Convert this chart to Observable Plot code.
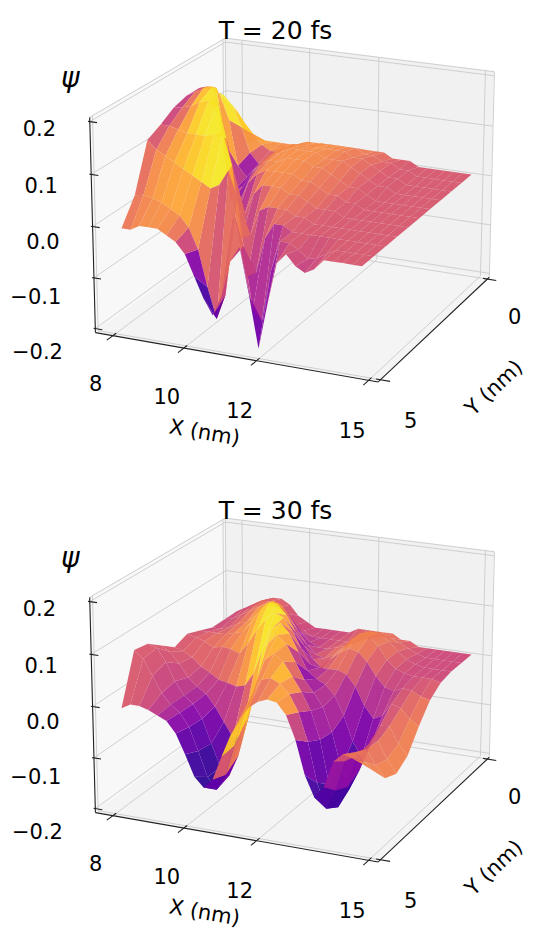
<!DOCTYPE html>
<html><head><meta charset="utf-8">
<script src="https://cdn.jsdelivr.net/npm/d3@7"></script>
<script src="https://cdn.jsdelivr.net/npm/@observablehq/plot@0.6"></script>
<style>
html,body{margin:0;padding:0;background:#fff;}
#chart svg{display:block;}
</style></head><body><div id="chart"></div>
<script>
// ---- data ----
const xGrid = [8.25,8.5,8.75,9.0,9.25,9.5,9.75,10.0,10.25,10.5,10.75,11.0,11.25,11.5,11.75,12.0,12.25,12.5,12.75,13.0,13.25,13.5,13.75,14.0,14.25,14.5,14.75];
const yGrid = [0,0.5,1,1.5,2,2.5,3,3.5,4,4.5,5];

const psi20 = [
[0.00,0.01,0.01,0.01,0.01,0.01,0.01,0.02,0.02,0.02,0.02,0.02,0.02,0.02,0.02,0.02,0.02,0.01,0.01,0.01,0,0,0,0,0,0,0],
[0.085,0.06,0.04,0.02,0.01,0.01,0.02,0.03,0.03,0.03,0.04,0.04,0.04,0.04,0.04,0.03,0.03,0.02,0.02,0.01,0.01,0,0,0,0,0,0],
[0.13,0.11,0.07,0.02,0.00,0.01,0.03,0.04,0.05,0.05,0.05,0.05,0.05,0.05,0.05,0.04,0.04,0.03,0.02,0.01,0.01,0,0,0,0,0,0],
[0.157,0.15,0.10,0.01,-0.01,0.01,0.03,0.04,0.05,0.06,0.06,0.06,0.06,0.05,0.05,0.05,0.04,0.03,0.02,0.01,0.01,0,0,0,0,0,0],
[0.175,0.18,0.18,0.07,-0.02,-0.01,0.02,0.04,0.05,0.05,0.06,0.06,0.06,0.05,0.05,0.04,0.03,0.02,0.02,0.01,0,0,0,0,0,0,0],
[0.175,0.185,0.195,0.20,0.14,-0.02,-0.02,0.02,0.04,0.05,0.05,0.05,0.05,0.04,0.04,0.03,0.02,0.02,0.01,0.01,0,0,0,0,0,0,0],
[0.167,0.17,0.175,0.185,0.19,0.19,0.12,-0.03,-0.02,0.02,0.04,0.04,0.04,0.03,0.03,0.02,0.01,0.01,0.01,0,0,0,0,0,0,0,0],
[0.15,0.15,0.145,0.14,0.14,0.14,0.145,0.15,0.09,-0.05,-0.04,0.01,0.02,0.02,0.02,0.01,0.01,0,0,0,0,0,0,0,0,0,0],
[0.136,0.12,0.11,0.10,0.09,0.08,0.07,0.06,0.07,0.10,0.05,-0.10,-0.09,-0.02,0.01,0.01,0,0,0,0,0,0,0,0,0,0,0],
[0.046,0.05,0.045,0.04,0.03,0.02,0.00,-0.04,-0.11,-0.17,-0.12,0.04,-0.02,-0.14,-0.16,-0.06,0.00,0.00,-0.01,-0.025,-0.02,-0.01,0,0,0,0,0],
[0.00,0.00,0.01,0.01,0.01,0.00,-0.01,-0.03,-0.07,-0.11,-0.14,-0.10,-0.03,0.00,-0.09,-0.19,-0.10,-0.02,0.00,-0.02,-0.03,-0.02,0,0,0,0,0]
];
const hue20 = [
[0.85,0.82,0.78,0.74,0.72,0.72,0.72,0.72,0.72,0.72,0.72,0.72,0.72,0.70,0.68,0.66,0.63,0.60,0.57,0.55,0.55,0.55,0.55,0.55,0.55,0.55,0.55],
[0.92,0.88,0.82,0.76,0.72,0.72,0.72,0.72,0.72,0.72,0.72,0.72,0.72,0.70,0.68,0.66,0.63,0.60,0.57,0.55,0.55,0.55,0.55,0.55,0.55,0.55,0.55],
[0.97,0.95,0.90,0.50,0.30,0.55,0.68,0.72,0.72,0.72,0.72,0.72,0.72,0.70,0.68,0.66,0.63,0.60,0.57,0.55,0.55,0.55,0.55,0.55,0.55,0.55,0.55],
[0.97,0.97,0.95,0.30,0.26,0.50,0.68,0.72,0.72,0.72,0.72,0.72,0.72,0.70,0.68,0.66,0.63,0.60,0.57,0.55,0.55,0.55,0.55,0.55,0.55,0.55,0.55],
[0.48,0.60,0.97,0.90,0.28,0.26,0.50,0.68,0.72,0.72,0.72,0.72,0.72,0.70,0.68,0.66,0.63,0.60,0.57,0.55,0.55,0.55,0.55,0.55,0.55,0.55,0.55],
[0.46,0.50,0.90,0.97,0.95,0.28,0.26,0.50,0.68,0.72,0.72,0.72,0.70,0.68,0.66,0.64,0.62,0.59,0.57,0.55,0.55,0.55,0.55,0.55,0.55,0.55,0.55],
[0.46,0.50,0.70,0.88,0.97,0.97,0.95,0.28,0.26,0.68,0.70,0.70,0.70,0.68,0.65,0.62,0.59,0.57,0.55,0.55,0.55,0.55,0.55,0.55,0.55,0.55,0.55],
[0.48,0.55,0.72,0.82,0.90,0.95,0.97,0.97,0.95,0.28,0.26,0.68,0.66,0.64,0.62,0.60,0.57,0.55,0.55,0.55,0.55,0.55,0.55,0.55,0.55,0.55,0.55],
[0.52,0.68,0.76,0.80,0.82,0.86,0.90,0.94,0.97,0.97,0.95,0.26,0.24,0.60,0.58,0.56,0.55,0.55,0.55,0.55,0.55,0.55,0.55,0.55,0.55,0.55,0.55],
[0.62,0.70,0.74,0.76,0.76,0.74,0.66,0.40,0.15,0.08,0.50,0.95,0.45,0.22,0.18,0.32,0.50,0.56,0.52,0.48,0.50,0.54,0.55,0.55,0.55,0.55,0.55],
[0.64,0.68,0.70,0.70,0.70,0.66,0.56,0.38,0.18,0.08,0.06,0.40,0.65,0.55,0.25,0.12,0.30,0.50,0.54,0.48,0.46,0.52,0.55,0.55,0.55,0.55,0.55]
];

const psi30 = [
[0.03,0.04,0.05,0.06,0.06,0.05,0.03,0.02,0.01,0.01,0.01,0.01,0.01,0.02,0.02,0.02,0.02,0.02,0.01,0.01,0,0,0,0,0,0,0],
[0.04,0.05,0.06,0.07,0.07,0.06,0.05,0.03,0.02,0.01,0.01,0.01,0.01,0.01,0.01,0.02,0.025,0.03,0.03,0.023,0.014,0.006,0,0,0,0,0],
[0.04,0.045,0.055,0.065,0.075,0.085,0.085,0.075,0.056,0.036,0.019,0.01,0.01,0.015,0.02,0.03,0.045,0.057,0.055,0.042,0.025,0.011,0.004,0,0,0,0],
[0.04,0.04,0.045,0.055,0.06,0.075,0.096,0.11,0.105,0.084,0.057,0.032,0.015,0.01,0.02,0.034,0.055,0.07,0.066,0.05,0.025,0.01,0.003,0,0,0,-0.005],
[0.05,0.05,0.05,0.05,0.055,0.06,0.081,0.108,0.126,0.124,0.105,0.075,0.049,0.025,0.01,0.032,0.045,0.057,0.053,0.036,0.01,-0.009,-0.015,-0.006,-0.008,-0.017,-0.022],
[0.06,0.055,0.05,0.04,0.044,0.042,0.036,0.059,0.087,0.111,0.126,0.119,0.095,0.063,0.035,0.031,0.031,0.032,0.025,0.004,-0.031,-0.054,-0.045,-0.019,-0.025,-0.043,-0.055],
[0.05,0.045,0.035,0.02,0.01,-0.001,-0.005,-0.01,-0.005,0.022,0.07,0.112,0.127,0.109,0.076,0.042,0.029,0.02,0.001,-0.035,-0.083,-0.11,-0.083,-0.044,-0.042,-0.073,-0.094],
[0.07,0.06,0.04,0.015,0,-0.012,-0.034,-0.062,-0.09,-0.083,-0.031,0.046,0.104,0.123,0.108,0.076,0.044,0.022,-0.003,-0.049,-0.115,-0.153,-0.115,-0.06,-0.052,-0.085,-0.11],
[0.09,0.085,0.06,0.025,0,-0.014,-0.04,-0.086,-0.13,-0.143,-0.102,-0.026,0.047,0.092,0.106,0.094,0.068,0.041,0.008,-0.045,-0.128,-0.17,-0.128,-0.064,-0.049,-0.077,-0.099],
[0.095,0.08,0.05,0.02,0,-0.013,-0.038,-0.082,-0.13,-0.152,-0.12,-0.061,0,0.045,0.074,0.08,0.072,0.055,0.023,-0.03,-0.106,-0.153,-0.115,-0.056,-0.036,-0.051,-0.066],
[0,0.01,0.01,0.005,-0.003,-0.011,-0.032,-0.069,-0.11,-0.128,-0.11,-0.063,-0.019,0.014,0.039,0.053,0.06,0.057,0.036,-0.008,-0.072,-0.111,-0.089,-0.038,-0.021,-0.026,-0.033]
];
const hue30 = [
[0.5,0.5,0.52,0.55,0.55,0.52,0.5,0.5,0.5,0.5,0.5,0.5,0.52,0.55,0.58,0.6,0.62,0.62,0.6,0.58,0.55,0.52,0.5,0.5,0.5,0.5,0.5],
[0.5,0.52,0.55,0.6,0.62,0.6,0.55,0.5,0.5,0.48,0.48,0.5,0.52,0.55,0.6,0.64,0.66,0.66,0.64,0.6,0.56,0.52,0.5,0.5,0.5,0.5,0.5],
[0.5,0.52,0.55,0.62,0.7,0.78,0.8,0.72,0.55,0.42,0.4,0.48,0.52,0.58,0.64,0.68,0.7,0.7,0.68,0.64,0.58,0.54,0.5,0.5,0.5,0.5,0.5],
[0.5,0.52,0.55,0.6,0.7,0.8,0.9,0.95,0.7,0.32,0.3,0.4,0.5,0.58,0.64,0.68,0.7,0.7,0.68,0.64,0.58,0.54,0.5,0.5,0.5,0.5,0.52],
[0.52,0.55,0.58,0.62,0.66,0.72,0.8,0.85,0.97,0.97,0.9,0.3,0.35,0.45,0.55,0.62,0.66,0.68,0.66,0.6,0.5,0.45,0.45,0.5,0.55,0.6,0.64],
[0.55,0.58,0.62,0.64,0.66,0.68,0.72,0.8,0.9,0.97,0.97,0.95,0.3,0.3,0.35,0.45,0.55,0.6,0.5,0.38,0.3,0.35,0.42,0.5,0.6,0.66,0.68],
[0.55,0.55,0.55,0.52,0.5,0.5,0.55,0.6,0.7,0.9,0.97,0.9,0.97,0.95,0.3,0.28,0.35,0.42,0.42,0.32,0.2,0.12,0.22,0.45,0.62,0.68,0.7],
[0.56,0.55,0.52,0.48,0.42,0.38,0.32,0.26,0.26,0.45,0.92,0.97,0.8,0.85,0.97,0.3,0.28,0.38,0.42,0.3,0.15,0.06,0.16,0.42,0.62,0.68,0.7],
[0.56,0.55,0.52,0.46,0.4,0.32,0.22,0.12,0.05,0.08,0.5,0.95,0.85,0.7,0.75,0.95,0.9,0.3,0.4,0.26,0.1,0.05,0.15,0.42,0.62,0.68,0.7],
[0.56,0.55,0.52,0.46,0.4,0.32,0.22,0.12,0.05,0.05,0.3,0.9,0.92,0.75,0.65,0.68,0.8,0.95,0.35,0.26,0.12,0.06,0.18,0.45,0.62,0.68,0.7],
[0.56,0.56,0.54,0.5,0.44,0.34,0.24,0.14,0.08,0.06,0.3,0.75,0.95,0.8,0.65,0.62,0.62,0.75,0.95,0.35,0.16,0.1,0.22,0.45,0.62,0.66,0.68]
];

const xTicks = [8, 10, 12, 15];
const yTicks = [0, 5];
const zTicks = [-0.2, -0.1, 0, 0.1, 0.2];
const titles = ["T = 20 fs", "T = 30 fs"];
const panelHeights = [480, 469];

// ---- 3D view ----
const box = {x0: 7.5, x1: 15.25, y0: -0.1, y1: 5.1, z0: -0.208, z1: 0.208};
const cam = {azim: 24.1, elev: 19.4, dist: 9, scale: 302, cx: 297, cy: 200, zAspect: 0.738};
const R = Math.PI / 180;
const sa = Math.sin(cam.azim * R), ca = Math.cos(cam.azim * R);
const sb = Math.sin(cam.elev * R), cb = Math.cos(cam.elev * R);
function project(X, Y, Z) {
  const px = (X - (box.x0 + box.x1) / 2) / (box.x1 - box.x0);
  const py = (Y - (box.y0 + box.y1) / 2) / (box.y1 - box.y0);
  const pz = (Z - (box.z0 + box.z1) / 2) / (box.z1 - box.z0) * cam.zAspect;
  const rx = ca * px - sa * py;
  const uy = -sb * sa * px - sb * ca * py + cb * pz;
  const t = cb * sa * px + cb * ca * py + sb * pz;
  const f = cam.dist / (cam.dist - t);
  return {x: cam.cx + cam.scale * f * rx, y: cam.cy - cam.scale * f * uy, t};
}
function seg(a, b) { const p = project(...a), q = project(...b); return {x1: p.x, y1: p.y, x2: q.x, y2: q.y}; }

function surfaceRows(psi, hue) {
  const quads = [];
  for (let i = 0; i < yGrid.length - 1; i++) {
    for (let j = 0; j < xGrid.length - 1; j++) {
      const z = [psi[i][j], psi[i][j + 1], psi[i + 1][j + 1], psi[i + 1][j]];
      const a = project(xGrid[j], yGrid[i], z[0]);
      const b = project(xGrid[j + 1], yGrid[i], z[1]);
      const c = project(xGrid[j + 1], yGrid[i + 1], z[2]);
      const d = project(xGrid[j], yGrid[i + 1], z[3]);
      const h = (hue[i][j] + hue[i][j + 1] + hue[i + 1][j + 1] + hue[i + 1][j]) / 4;
      const depth = project((xGrid[j] + xGrid[j + 1]) / 2, (yGrid[i] + yGrid[i + 1]) / 2, d3.mean(z)).t;
      quads.push({a, b, c, d, h, depth});
    }
  }
  quads.sort((p, q) => p.depth - q.depth);
  const rows = [];
  quads.forEach((q, k) => {
    rows.push({id: k, x1: q.a.x, y1: q.a.y, x2: q.d.x, y2: q.d.y, h: q.h});
    rows.push({id: k, x1: q.b.x, y1: q.b.y, x2: q.c.x, y2: q.c.y, h: q.h});
  });
  return rows;
}

function paneRows() {
  const {x0, x1, y0, y1, z0, z1} = box;
  const panes = [
    {name: "floor", fill: "#f4f4f4", e: [[[x0, y0, z0], [x0, y1, z0]], [[x1, y0, z0], [x1, y1, z0]]]},
    {name: "left", fill: "#f8f8f8", e: [[[x0, y0, z0], [x0, y0, z1]], [[x0, y1, z0], [x0, y1, z1]]]},
    {name: "back", fill: "#f1f1f1", e: [[[x0, y0, z0], [x0, y0, z1]], [[x1, y0, z0], [x1, y0, z1]]]}
  ];
  const rows = [];
  for (const p of panes) for (const [u, v] of p.e) {
    const P = project(...u), Q = project(...v);
    rows.push({id: p.name, fill: p.fill, x1: P.x, y1: P.y, x2: Q.x, y2: Q.y});
  }
  return rows;
}

function gridRows() {
  const {x0, x1, y0, y1, z0, z1} = box;
  const g = [];
  for (const X of xTicks) { g.push(seg([X, y0, z0], [X, y0, z1])); g.push(seg([X, y0, z0], [X, y1, z0])); }
  for (const Y of yTicks) { g.push(seg([x0, Y, z0], [x0, Y, z1])); g.push(seg([x0, Y, z0], [x1, Y, z0])); }
  for (const Z of zTicks) { g.push(seg([x0, y0, Z], [x1, y0, Z])); g.push(seg([x0, y0, Z], [x0, y1, Z])); }
  g.push(seg([x0, y0, z1], [x1, y0, z1]), seg([x0, y0, z1], [x0, y1, z1]), seg([x1, y0, z0], [x1, y0, z1]), seg([x0, y0, z0], [x0, y0, z1]));
  return g;
}

function axisRows() {
  const {x0, x1, y0, y1, z0, z1} = box;
  const a = [seg([x0, y1, z0], [x1, y1, z0]), seg([x1, y0, z0], [x1, y1, z0]), seg([x0, y1, z0], [x0, y1, z1])];
  for (const X of xTicks) a.push(seg([X, y1 - 0.12, z0], [X, y1 + 0.22, z0]));
  for (const Y of yTicks) a.push(seg([x1 - 0.12, Y, z0], [x1 + 0.25, Y, z0]));
  for (const Z of zTicks) a.push(seg([x0 + 0.2, y1, Z], [x0 - 0.05, y1, Z]));
  return a;
}

const fmt = (v) => v.toFixed(1).replace("-", "\u2212");

function labelRows() {
  const {x0, x1, y0, y1, z0, z1} = box;
  const xl = xTicks.map((X) => { const p = project(X, y1 + 0.55, z0 - 0.074); return {x: p.x - 3, y: p.y, text: String(X)}; });
  const yl = yTicks.map((Y) => { const p = project(x1 + 0.8, Y, z0 - 0.07); return {x: p.x, y: p.y, text: String(Y)}; });
  const zl = zTicks.map((Z) => { const p = project(x0 - 0.2, y1 + 0.9, Z * 1.06); return {x: p.x, y: p.y, text: fmt(Z)}; });
  const ax0 = project(x0, y1, z0), ax1 = project(x1, y1, z0), ay0 = project(x1, y1, z0), ay1 = project(x1, y0, z0);
  const xa = project(11.5, 6.4, -0.298), ya = project(16.9, 2.6, -0.305), za = project(x0 - 0.1, y1 + 0.5, z1 + 0.088);
  const rotX = Math.atan2(ax1.y - ax0.y, ax1.x - ax0.x) / R;
  const rotY = Math.atan2(ay1.y - ay0.y, ay1.x - ay0.x) / R;
  return {xl, yl, zl, xa: {...xa, rot: rotX}, ya: {...ya, rot: rotY}, za};
}

const container = document.getElementById("chart");
[[psi20, hue20], [psi30, hue30]].forEach(([psi, hue], k) => {
  const H = panelHeights[k];
  const L = labelRows();
  const svg = Plot.plot({
    width: 550, height: H, margin: 0,
    x: {domain: [0, 550], range: [0, 550], axis: null},
    y: {domain: [0, H], range: [0, H], axis: null},
    color: {type: "linear", scheme: "plasma", domain: [0, 1]},
    style: {fontFamily: "DejaVu Sans", background: "white", color: "black", overflow: "visible"},
    marks: [
      Plot.area(paneRows(), {x1: "x1", y1: "y1", x2: "x2", y2: "y2", z: "id", fill: (d) => d.fill}),
      Plot.link(gridRows(), {x1: "x1", y1: "y1", x2: "x2", y2: "y2", stroke: "#cbcbcb", strokeWidth: 0.9}),
      Plot.area(surfaceRows(psi, hue), {x1: "x1", y1: "y1", x2: "x2", y2: "y2", z: "id", fill: "h", fillOpacity: 0.95}),
      Plot.link(axisRows(), {x1: "x1", y1: "y1", x2: "x2", y2: "y2", stroke: "#222", strokeWidth: 1.1}),
      Plot.text(L.xl, {x: "x", y: "y", text: "text", fontSize: 21}),
      Plot.text(L.yl, {x: "x", y: "y", text: "text", fontSize: 21}),
      Plot.text(L.zl, {x: "x", y: "y", text: "text", fontSize: 21, textAnchor: "end"}),
      Plot.text([L.xa], {x: "x", y: "y", text: () => "X (nm)", rotate: L.xa.rot, fontSize: 21}),
      Plot.text([L.ya], {x: "x", y: "y", text: () => "Y (nm)", rotate: L.ya.rot, fontSize: 21}),
      Plot.text([L.za], {x: "x", y: "y", text: () => "\u03c8", fontSize: 28, fontStyle: "italic"}),
      Plot.text([titles[k]], {frameAnchor: "top", dy: 30, text: (d) => d, fontSize: 25, lineAnchor: "middle"})
    ]
  });
  container.appendChild(svg);
});
</script>
</body></html>
